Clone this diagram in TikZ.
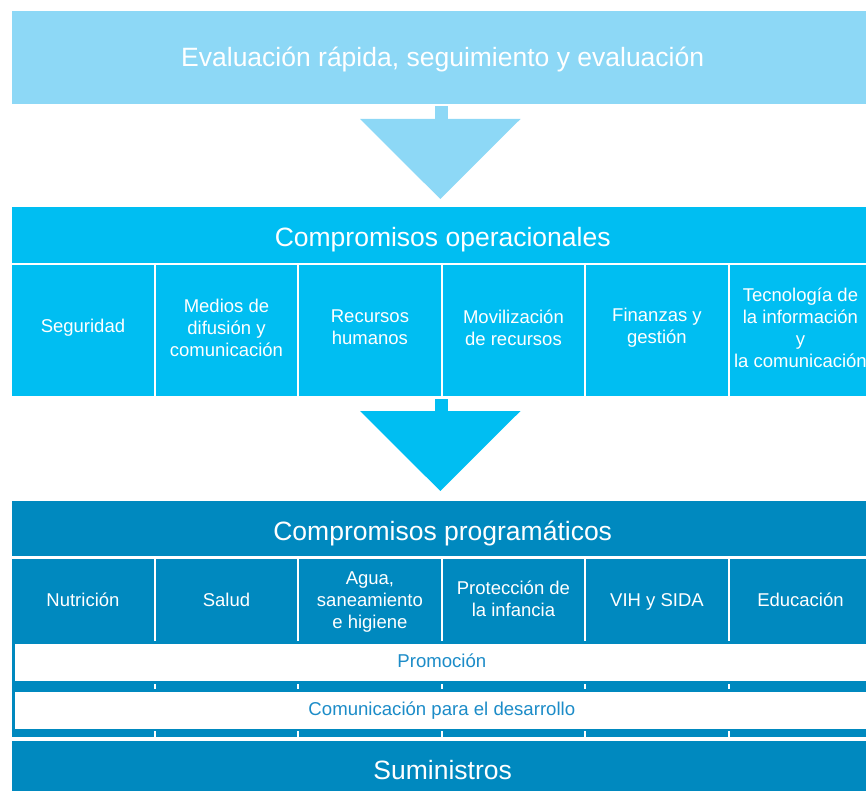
\documentclass[tikz,border=0pt]{standalone}
\usepackage{fontspec}
\setmainfont{Liberation Sans}
\definecolor{lightb}{RGB}{141,216,246}
\definecolor{midb}{RGB}{0,190,242}
\definecolor{darkb}{RGB}{0,137,191}
\definecolor{bartext}{RGB}{28,140,200}
\begin{document}
\begin{tikzpicture}[x=1pt,y=-1pt,
  block/.style={fill=#1, draw=none, inner sep=0pt, anchor=north west},
  txt/.style={inner sep=0pt, text=white, align=center},
  bigtext/.style={font=\fontsize{26.5}{30}\selectfont},
  smalltext/.style={font=\fontsize{18.5}{22}\selectfont},
  bartxt/.style={inner sep=0pt, text=bartext, font=\fontsize{18.6}{22}\selectfont},
  colbox/.style={block=#1, minimum width=141.5pt},
  whitebar/.style={fill=white, draw=none, inner sep=0pt, anchor=north west, minimum width=858.7pt, minimum height=37pt},
  tick/.style={fill=white, draw=none}
]
\useasboundingbox (0,0) rectangle (866,791);
\clip (0,0) rectangle (866,791);

% top box
\node[block=lightb, minimum width=861pt, minimum height=93pt] (eval) at (12,11) {};
\node[txt, bigtext, yshift=-2pt] (evalt) at (eval.center) {Evaluación rápida, seguimiento y evaluación};

% arrow 1
\fill[lightb] (434.5,106.5) rectangle (447.5,119.5);
\fill[lightb] (360,119) -- (520.5,119) -- (440.3,199) -- cycle;

% operational commitments
\node[block=midb, minimum width=861pt, minimum height=55.7pt] (oper) at (12,207.3) {};
\node[txt, bigtext, yshift=-4pt] (opert) at (oper.center) {Compromisos operacionales};
\foreach \i/\t in {0/Seguridad, 1/{Medios de\\difusión y\\comunicación}, 2/{Recursos\\humanos}, 3/{Movilización\\de recursos}, 4/{Finanzas y\\gestión}, 5/{Tecnología de\\la información\\y\\la comunicación}}{
  \node[colbox=midb, minimum height=131pt] (op\i) at ({12+143.5*\i},265) {};
  \node[txt, smalltext, yshift=3pt] (op\i t) at (op\i.center) {\t};
}

% arrow 2
\fill[midb] (434.5,399) rectangle (447.5,411.5);
\fill[midb] (360,411) -- (520.5,411) -- (440.3,491) -- cycle;

% programmatic commitments
\node[block=darkb, minimum width=861pt, minimum height=55pt] (prog) at (12,501) {};
\node[txt, bigtext, yshift=-5pt] (progt) at (prog.center) {Compromisos programáticos};
\foreach \i/\t/\s in {0/Nutrición/0, 1/Salud/0, 2/{Agua,\\saneamiento\\e higiene}/-2, 3/{Protección de\\la infancia}/1, 4/{VIH y SIDA}/-2, 5/Educación/0}{
  \node[colbox=darkb, minimum height=82pt] (pr\i) at ({12+143.5*\i},559) {};
  \node[txt, smalltext, yshift=\s pt] (pr\i t) at (pr\i.center) {\t};
}
\fill[darkb] (12,640.5) rectangle (873,737.3);
\foreach \i in {1,...,5}{
  \fill[tick] ({12+143.5*\i-2},684) rectangle ({12+143.5*\i},688.5);
  \fill[tick] ({12+143.5*\i-2},731) rectangle ({12+143.5*\i},737.3);
}
\node[whitebar] (promo) at (14.3,644) {};
\node[bartxt, yshift=2pt] (promot) at ([xshift=-2pt]promo.center) {Promoción};
\node[whitebar] (comdev) at (14.3,691.3) {};
\node[bartxt, yshift=-1pt] (comdevt) at ([xshift=-2pt]comdev.center) {Comunicación para el desarrollo};

% supplies
\node[block=darkb, minimum width=861pt, minimum height=59pt] (sumin) at (12,740.7) {};
\node[txt, bigtext] (simint) at (sumin.center) {Suministros};
\end{tikzpicture}
\end{document}
